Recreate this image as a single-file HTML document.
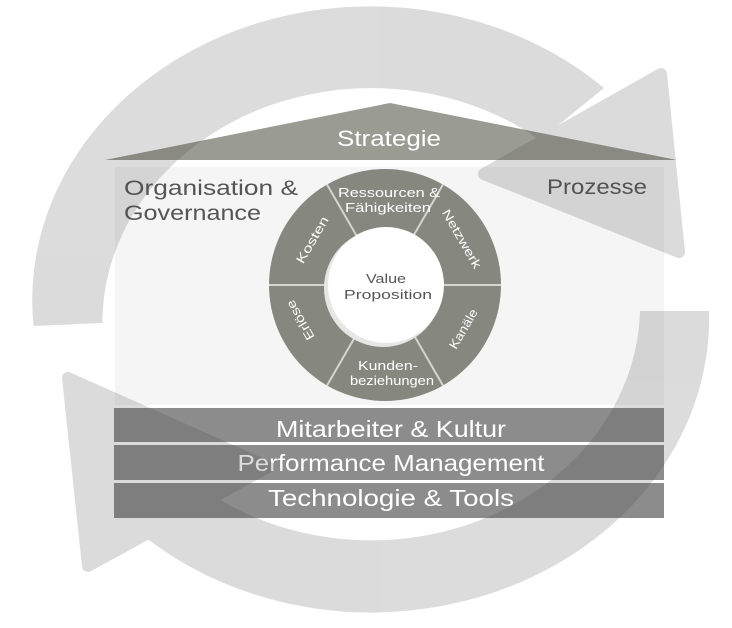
<!DOCTYPE html>
<html><head><meta charset="utf-8"><style>
html,body{margin:0;padding:0;background:#fff;width:732px;height:628px;overflow:hidden}
svg{display:block}
text{font-family:"Liberation Sans","DejaVu Sans",sans-serif}
</style></head><body>
<svg width="732" height="628" viewBox="0 0 732 628" xmlns="http://www.w3.org/2000/svg">
<!-- roof -->
<polygon points="105,160 390,103 677,160" fill="#9a9b92"/>
<text x="389" y="146" font-size="22" fill="#fff" text-anchor="middle" textLength="104" lengthAdjust="spacingAndGlyphs">Strategie</text>
<!-- panel -->
<rect x="115" y="167" width="549" height="238" fill="#f5f5f5"/>
<text x="124" y="195" font-size="21" fill="#555" textLength="174" lengthAdjust="spacingAndGlyphs">Organisation &amp;</text>
<text x="124" y="220" font-size="21" fill="#555" textLength="137" lengthAdjust="spacingAndGlyphs">Governance</text>
<text x="547" y="194" font-size="21" fill="#555" textLength="100" lengthAdjust="spacingAndGlyphs">Prozesse</text>
<!-- ring -->
<circle cx="385" cy="285" r="116" fill="#86887f"/>
<g stroke="#d4d4d0" stroke-width="2">
<line x1="269" y1="285" x2="501" y2="285"/>
<line x1="327" y1="184.5" x2="443" y2="385.5"/>
<line x1="443" y1="184.5" x2="327" y2="385.5"/>
</g>
<circle cx="383" cy="288" r="59" fill="#e6e6e4"/>
<circle cx="386" cy="285" r="58" fill="#fff"/>
<text x="386" y="283" font-size="12.5" fill="#555" text-anchor="middle" textLength="40" lengthAdjust="spacingAndGlyphs">Value</text>
<text x="388" y="299" font-size="12.5" fill="#555" text-anchor="middle" textLength="88" lengthAdjust="spacingAndGlyphs">Proposition</text>
<g fill="#fff" font-size="12.5" text-anchor="middle">
<text x="389" y="197" textLength="102" lengthAdjust="spacingAndGlyphs">Ressourcen &amp;</text>
<text x="388" y="212" textLength="86" lengthAdjust="spacingAndGlyphs">Fähigkeiten</text>
<text x="388" y="370" textLength="60" lengthAdjust="spacingAndGlyphs">Kunden-</text>
<text x="392" y="385" textLength="84" lengthAdjust="spacingAndGlyphs">beziehungen</text>
<text transform="translate(316,242) rotate(-60)" textLength="52" lengthAdjust="spacingAndGlyphs">Kosten</text>
<text transform="translate(458,241) rotate(60)" textLength="66" lengthAdjust="spacingAndGlyphs">Netzwerk</text>
<text transform="translate(304,318) rotate(-120)" textLength="44" lengthAdjust="spacingAndGlyphs">Erlöse</text>
<text transform="translate(467,331) rotate(-60)" textLength="44" lengthAdjust="spacingAndGlyphs">Kanäle</text>
</g>
<!-- bars -->
<rect x="114" y="408" width="550" height="34" fill="#8c8c8c"/>
<rect x="114" y="445" width="550" height="35" fill="#8c8c8c"/>
<rect x="114" y="483" width="550" height="35" fill="#8c8c8c"/>
<g fill="#fff" font-size="23" text-anchor="middle">
<text x="391" y="437" textLength="230" lengthAdjust="spacingAndGlyphs">Mitarbeiter &amp; Kultur</text>
<text x="391" y="471" textLength="307" lengthAdjust="spacingAndGlyphs">Performance Management</text>
<text x="391" y="506" textLength="246" lengthAdjust="spacingAndGlyphs">Technologie &amp; Tools</text>
</g>
<!-- cycle arrows -->
<g opacity="0.19" fill="#474747" stroke="#474747" stroke-linejoin="round">
<path stroke="none" d="M 33.5 326 A 338 294 0 0 1 604 88 L 540 140 A 269 235 0 0 0 102.4 323 Z"/>
<polygon stroke-width="12" points="661,74 679,252 484,174"/>
<path stroke="none" d="M 709 311 A 338 294 0 0 1 140 533 L 195 483 A 269 235 0 0 0 640 311 Z"/>
<polygon stroke-width="12" points="68,378 88,566 268,467"/>
</g>
</svg>
</body></html>
